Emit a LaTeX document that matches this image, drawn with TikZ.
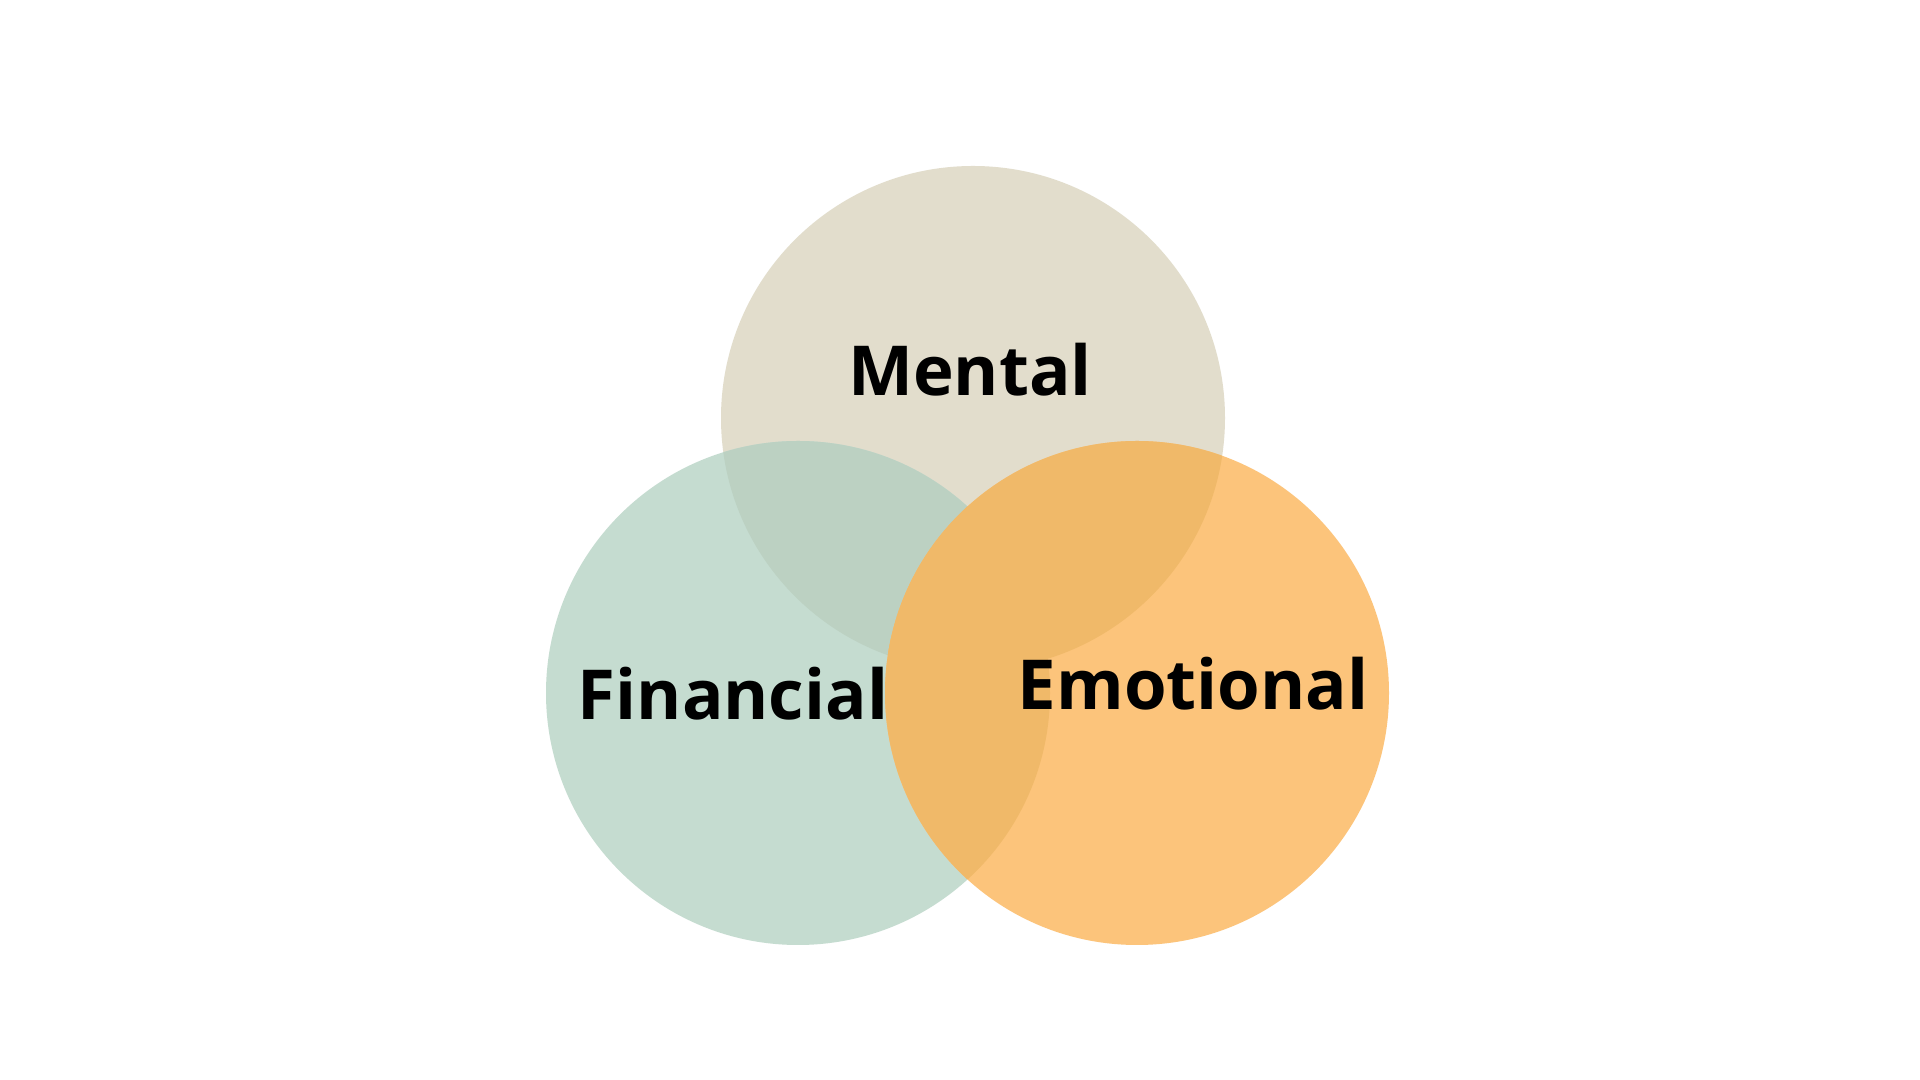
\documentclass[tikz,border=0pt]{standalone}
\usepackage{fontspec}
\setmainfont{Open Sans}
\definecolor{mentalc}{HTML}{E2DDCC}
\definecolor{finc}{HTML}{C5DCD0}
\definecolor{mfc}{HTML}{BCD1C2}
\definecolor{emoc}{HTML}{FCC47B}
\definecolor{emoover}{HTML}{F0B969}
\begin{document}
\begin{tikzpicture}[x=0.01cm,y=-0.01cm,
  lbl/.style={font=\fontsize{19.6}{24}\selectfont\bfseries, text=black, inner sep=0pt, anchor=base}]
\useasboundingbox (0,0) rectangle (1920,1080);
\fill[white] (0,0) rectangle (1920,1080);
\coordinate (cm) at (973,418);
\coordinate (cf) at (798,693);
\coordinate (ce) at (1137,693);
\def\rr{252}
\fill[mentalc] (cm) circle[radius=\rr];
\fill[finc] (cf) circle[radius=\rr];
\begin{scope}
  \clip (cm) circle[radius=\rr];
  \fill[mfc] (cf) circle[radius=\rr];
\end{scope}
\fill[emoc] (ce) circle[radius=\rr];
\begin{scope}
  \clip (ce) circle[radius=\rr];
  \fill[emoover] (cm) circle[radius=\rr];
  \fill[emoover] (cf) circle[radius=\rr];
\end{scope}
\node[lbl] (mental) at (970,396) {Mental};
\node[lbl] (financial) at (733,720) {Financial};
\node[lbl] (emotional) at (1193,710) {Emotional};
\end{tikzpicture}
\end{document}
